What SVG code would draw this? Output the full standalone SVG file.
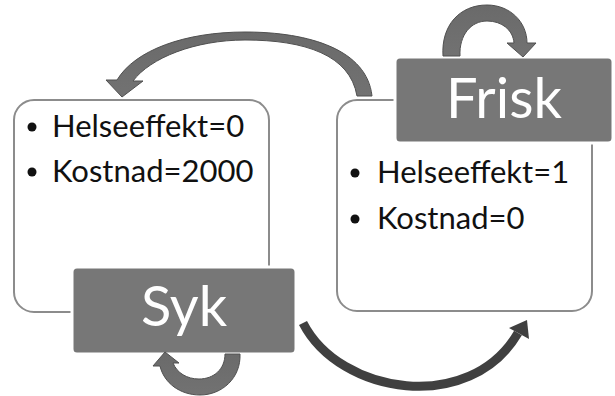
<svg xmlns="http://www.w3.org/2000/svg" width="615" height="396" viewBox="0 0 615 396">
<defs>
<style>
.panel{fill:#ffffff;stroke:#8c8c8c;stroke-width:2}
.label{fill:#777777;stroke:#ffffff;stroke-width:3}
.lt{font-family:Lato,"Open Sans","Liberation Sans",sans-serif;font-size:56px;fill:#ffffff;text-anchor:middle}
.bt{font-family:Lato,"Open Sans","Liberation Sans",sans-serif;font-size:31px;fill:#111111}
.bul{fill:#111111}
.garrow{fill:url(#gg);stroke:#505050;stroke-width:1}
.darrow{fill:none;stroke:#404040;stroke-width:9}
</style>
<linearGradient id="gg" x1="0" y1="0" x2="0" y2="1">
<stop offset="0" stop-color="#6a6a6a"/>
<stop offset="1" stop-color="#727272"/>
</linearGradient>
</defs>
<rect width="615" height="396" fill="#ffffff"/>
<g id="syk">
<rect class="panel" x="14" y="100" width="255" height="212" rx="20"/>
<circle class="bul" cx="32" cy="127" r="4.5"/>
<text class="bt" x="52" y="137">Helseeffekt=0</text>
<circle class="bul" cx="32" cy="172" r="4.5"/>
<text class="bt" x="52" y="182">Kostnad=2000</text>
<rect class="label" x="72" y="267" width="224" height="87" rx="5"/>
<text class="lt" x="184" y="326">Syk</text>
</g>
<g id="frisk">
<rect class="panel" x="337" y="100" width="255" height="211" rx="20"/>
<circle class="bul" cx="355" cy="173" r="4.5"/>
<text class="bt" x="377" y="183">Helseeffekt=1</text>
<circle class="bul" cx="355" cy="219" r="4.5"/>
<text class="bt" x="377" y="229">Kostnad=0</text>
<rect class="label" x="395" y="57" width="218" height="86" rx="5"/>
<text class="lt" x="504" y="118">Frisk</text>
</g>
<g id="connectors">
<path class="garrow" d="M 372 96 C 367 50, 310 32, 245 32 C 185 32, 135 50, 117 80 L 106 80 L 122 97 L 143 81 L 133 81 C 150 58, 195 40, 245 40 C 305 40, 350 55, 357 96 Z"/>
<path class="garrow" d="M 443 56 C 441 25, 460 5, 487 5 C 510 5, 527 22, 527 43 L 536 43 L 523 57 L 507 43 L 514 43 C 513 30, 502 21, 487 21 C 471 21, 459 35, 460 56 Z"/>
<path class="garrow" d="M 240 354 C 241 378, 222 395, 200 395 C 180 395, 164 383, 160 366 L 153 366 L 165 352 L 179 363 L 173 363 C 177 373, 187 379, 199 379 C 214 379, 225 369, 225 354 Z"/>
<path class="darrow" d="M 303 323 C 340 395, 470 415, 518 333"/>
<polygon fill="#404040" points="527,320 509,328 529,339"/>
</g>
</svg>
